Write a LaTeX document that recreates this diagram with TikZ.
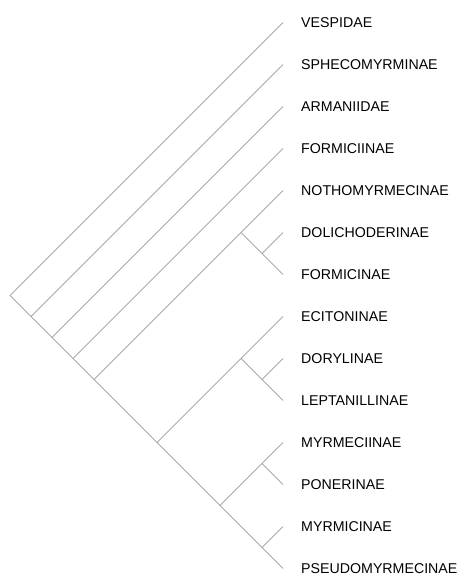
\documentclass[tikz,border=0pt]{standalone}
\usepackage{fontspec}
\setmainfont{Liberation Sans}
\usepackage{tikz}

\tikzset{
	branch/.style={-, draw=gray, line width=0.6pt},
	taxon/.style={anchor=west, inner sep=0pt, xshift=18pt, font=\fontsize{14.2}{16}\selectfont}
}

\begin{document}
\begin{tikzpicture}[x=1pt, y=-1pt]
	\useasboundingbox (0, 0) rectangle (466, 575);
	
	% leaf tips
	\coordinate (vesp) at (283, 22.5);
	\coordinate (sphe) at (283, 64.5);
	\coordinate (arma) at (283, 106.5);
	\coordinate (fmci) at (283, 148.5);
	\coordinate (noth) at (283, 190.5);
	\coordinate (doli) at (283, 232.5);
	\coordinate (fmcn) at (283, 274.5);
	\coordinate (ecit) at (283, 316.5);
	\coordinate (dory) at (283, 358.5);
	\coordinate (lept) at (283, 400.5);
	\coordinate (mymc) at (283, 442.5);
	\coordinate (pone) at (283, 484.5);
	\coordinate (mymi) at (283, 526.5);
	\coordinate (pseu) at (283, 568.5);
	
	% internal nodes
	\coordinate (root) at (10, 295.5);
	\coordinate (n1) at (31, 316.5);
	\coordinate (n2) at (52, 337.5);
	\coordinate (n3) at (73, 358.5);
	\coordinate (n4) at (94, 379.5);
	\coordinate (n5) at (241, 232.5);
	\coordinate (n6) at (262, 253.5);
	\coordinate (n7) at (157, 442.5);
	\coordinate (n8) at (241, 358.5);
	\coordinate (n9) at (262, 379.5);
	\coordinate (n10) at (220, 505.5);
	\coordinate (n11) at (262, 463.5);
	\coordinate (n12) at (262, 547.5);
	
	% labels
	\node[taxon] (lvesp) at (vesp) {VESPIDAE};
	\node[taxon] (lsphe) at (sphe) {SPHECOMYRMINAE};
	\node[taxon] (larma) at (arma) {ARMANIIDAE};
	\node[taxon] (lfmci) at (fmci) {FORMICIINAE};
	\node[taxon] (lnoth) at (noth) {NOTHOMYRMECINAE};
	\node[taxon] (ldoli) at (doli) {DOLICHODERINAE};
	\node[taxon] (lfmcn) at (fmcn) {FORMICINAE};
	\node[taxon] (lecit) at (ecit) {ECITONINAE};
	\node[taxon] (ldory) at (dory) {DORYLINAE};
	\node[taxon] (llept) at (lept) {LEPTANILLINAE};
	\node[taxon] (lmymc) at (mymc) {MYRMECIINAE};
	\node[taxon] (lpone) at (pone) {PONERINAE};
	\node[taxon] (lmymi) at (mymi) {MYRMICINAE};
	\node[taxon] (lpseu) at (pseu) {PSEUDOMYRMECINAE};
	
	% branches
	\path[branch] (root) edge (vesp);
	\path[branch] (root) edge (n1);
	\path[branch] (n1) edge (sphe);
	\path[branch] (n1) edge (n2);
	\path[branch] (n2) edge (arma);
	\path[branch] (n2) edge (n3);
	\path[branch] (n3) edge (fmci);
	\path[branch] (n3) edge (n4);
	\path[branch] (n4) edge (n5);
	\path[branch] (n4) edge (n7);
	\path[branch] (n5) edge (noth);
	\path[branch] (n5) edge (n6);
	\path[branch] (n6) edge (doli);
	\path[branch] (n6) edge (fmcn);
	\path[branch] (n7) edge (n8);
	\path[branch] (n7) edge (n10);
	\path[branch] (n8) edge (ecit);
	\path[branch] (n8) edge (n9);
	\path[branch] (n9) edge (dory);
	\path[branch] (n9) edge (lept);
	\path[branch] (n10) edge (n11);
	\path[branch] (n10) edge (n12);
	\path[branch] (n11) edge (mymc);
	\path[branch] (n11) edge (pone);
	\path[branch] (n12) edge (mymi);
	\path[branch] (n12) edge (pseu);

\end{tikzpicture}
\end{document}
